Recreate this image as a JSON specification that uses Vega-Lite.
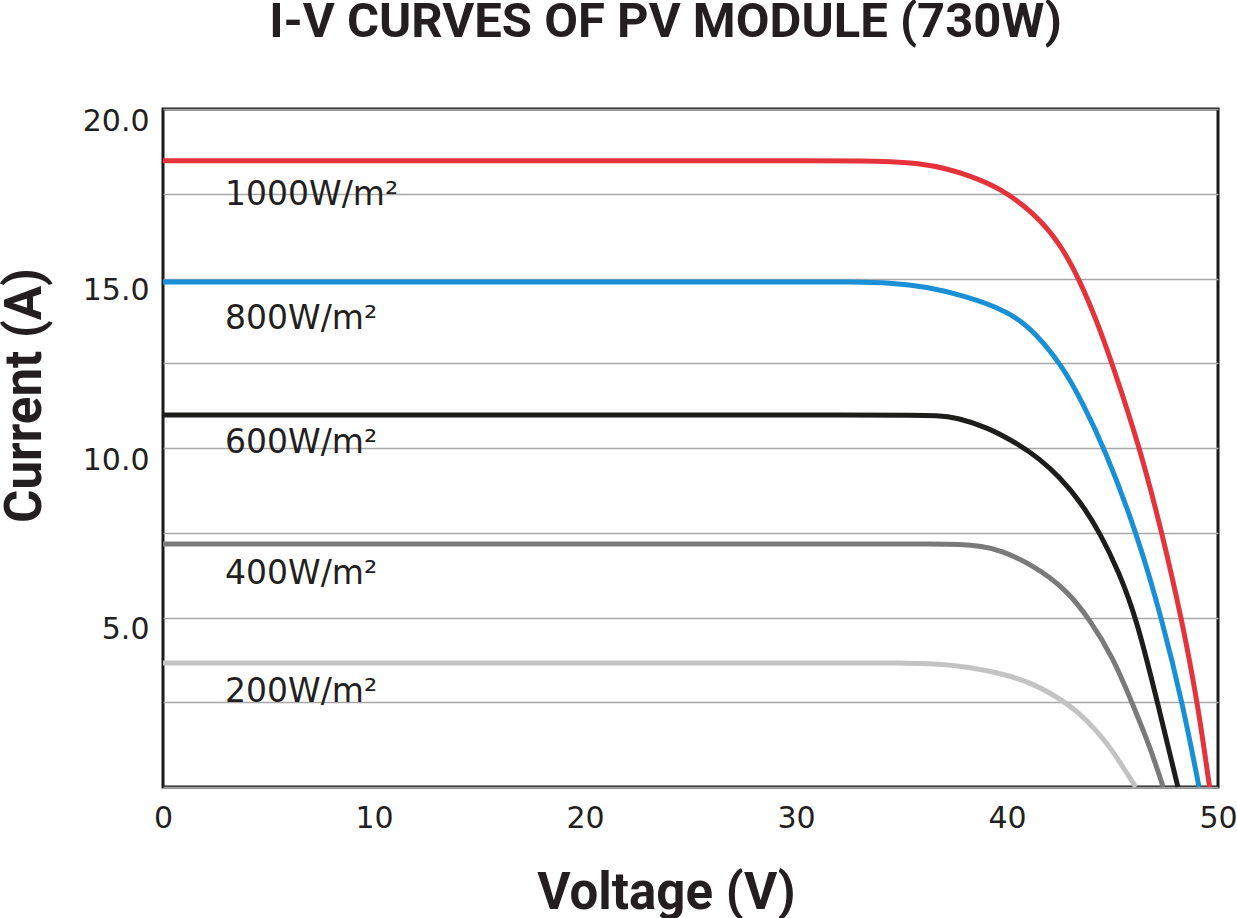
{
  "$schema": "https://vega.github.io/schema/vega-lite/v6.json",
  "width": 1055,
  "height": 678,
  "autosize": "none",
  "padding": {"left": 163, "top": 109, "right": 19, "bottom": 131},
  "background": "white",
  "title": {
    "text": "I-V CURVES OF PV MODULE (730W)",
    "font": "Roboto",
    "fontSize": 49,
    "fontWeight": "bold",
    "color": "#231f20",
    "anchor": "middle",
    "frame": "group",
    "baseline": "alphabetic",
    "dx": -25,
    "offset": 20
  },
  "datasets": {
    "curves": [
      {"irr": "1000", "V": 0, "I": 18.47},
      {"irr": "1000", "V": 25, "I": 18.47},
      {"irr": "1000", "V": 31, "I": 18.47},
      {"irr": "1000", "V": 33.0, "I": 18.47},
      {"irr": "1000", "V": 34.5, "I": 18.45},
      {"irr": "1000", "V": 35.9, "I": 18.39},
      {"irr": "1000", "V": 37.1, "I": 18.25},
      {"irr": "1000", "V": 38.2, "I": 18.04},
      {"irr": "1000", "V": 39.67, "I": 17.67},
      {"irr": "1000", "V": 41.23, "I": 16.96},
      {"irr": "1000", "V": 42.51, "I": 16.05},
      {"irr": "1000", "V": 43.46, "I": 14.93},
      {"irr": "1000", "V": 44.27, "I": 13.72},
      {"irr": "1000", "V": 44.98, "I": 12.5},
      {"irr": "1000", "V": 46.3, "I": 10.0},
      {"irr": "1000", "V": 47.35, "I": 7.49},
      {"irr": "1000", "V": 48.29, "I": 4.93},
      {"irr": "1000", "V": 49.05, "I": 2.42},
      {"irr": "1000", "V": 49.6, "I": 0},
      {"irr": "800", "V": 0, "I": 14.9},
      {"irr": "800", "V": 25, "I": 14.9},
      {"irr": "800", "V": 30.5, "I": 14.9},
      {"irr": "800", "V": 32.5, "I": 14.9},
      {"irr": "800", "V": 34.5, "I": 14.88},
      {"irr": "800", "V": 36.2, "I": 14.76},
      {"irr": "800", "V": 37.9, "I": 14.5},
      {"irr": "800", "V": 39.5, "I": 14.17},
      {"irr": "800", "V": 40.95, "I": 13.69},
      {"irr": "800", "V": 42.65, "I": 12.42},
      {"irr": "800", "V": 43.6, "I": 11.3},
      {"irr": "800", "V": 44.55, "I": 10.09},
      {"irr": "800", "V": 46.16, "I": 7.49},
      {"irr": "800", "V": 47.35, "I": 4.93},
      {"irr": "800", "V": 48.34, "I": 2.42},
      {"irr": "800", "V": 49.1, "I": 0},
      {"irr": "600", "V": 0, "I": 10.97},
      {"irr": "600", "V": 25, "I": 10.97},
      {"irr": "600", "V": 33, "I": 10.97},
      {"irr": "600", "V": 35.5, "I": 10.97},
      {"irr": "600", "V": 36.7, "I": 10.96},
      {"irr": "600", "V": 37.6, "I": 10.9},
      {"irr": "600", "V": 39.05, "I": 10.62},
      {"irr": "600", "V": 40.6, "I": 10.09},
      {"irr": "600", "V": 41.5, "I": 9.7},
      {"irr": "600", "V": 42.51, "I": 9.14},
      {"irr": "600", "V": 43.5, "I": 8.4},
      {"irr": "600", "V": 44.41, "I": 7.49},
      {"irr": "600", "V": 45.3, "I": 6.35},
      {"irr": "600", "V": 46.16, "I": 4.93},
      {"irr": "600", "V": 47.16, "I": 2.42},
      {"irr": "600", "V": 48.1, "I": 0},
      {"irr": "400", "V": 0, "I": 7.17},
      {"irr": "400", "V": 25, "I": 7.17},
      {"irr": "400", "V": 34, "I": 7.17},
      {"irr": "400", "V": 36.5, "I": 7.17},
      {"irr": "400", "V": 37.8, "I": 7.16},
      {"irr": "400", "V": 38.8, "I": 7.1},
      {"irr": "400", "V": 39.67, "I": 6.99},
      {"irr": "400", "V": 41.23, "I": 6.55},
      {"irr": "400", "V": 42.84, "I": 5.81},
      {"irr": "400", "V": 43.93, "I": 4.93},
      {"irr": "400", "V": 45.02, "I": 3.83},
      {"irr": "400", "V": 45.97, "I": 2.42},
      {"irr": "400", "V": 46.78, "I": 1.18},
      {"irr": "400", "V": 47.4, "I": 0},
      {"irr": "200", "V": 0, "I": 3.66},
      {"irr": "200", "V": 25, "I": 3.66},
      {"irr": "200", "V": 32.5, "I": 3.66},
      {"irr": "200", "V": 35, "I": 3.66},
      {"irr": "200", "V": 36.6, "I": 3.64},
      {"irr": "200", "V": 38.2, "I": 3.54},
      {"irr": "200", "V": 39.67, "I": 3.36},
      {"irr": "200", "V": 41.23, "I": 3.07},
      {"irr": "200", "V": 42.84, "I": 2.48},
      {"irr": "200", "V": 43.79, "I": 1.98},
      {"irr": "200", "V": 44.74, "I": 1.3},
      {"irr": "200", "V": 45.5, "I": 0.59},
      {"irr": "200", "V": 46.1, "I": 0}
    ],
    "labels": [
      {"label": "1000W/m²", "V": 2.94, "I": 17.45},
      {"label": "800W/m²", "V": 2.94, "I": 13.82},
      {"label": "600W/m²", "V": 2.94, "I": 10.14},
      {"label": "400W/m²", "V": 2.94, "I": 6.27},
      {"label": "200W/m²", "V": 2.94, "I": 2.79}
    ]
  },
  "encoding": {
    "x": {
      "field": "V",
      "type": "quantitative",
      "scale": {"domain": [0, 50], "nice": false},
      "axis": {
        "values": [0, 10, 20, 30, 40, 50],
        "grid": false,
        "ticks": false,
        "domain": false,
        "labelFont": "DejaVu Sans",
        "labelFontSize": 30,
        "labelColor": "#231f20",
        "labelPadding": 16,
        "labelFlush": false,
        "title": "Voltage (V)",
        "titleFont": "Roboto",
        "titleFontSize": 51,
        "titleFontWeight": "bold",
        "titleColor": "#231f20",
        "titleX": 503,
        "titleY": 121,
        "titleAlign": "center",
        "titleBaseline": "alphabetic"
      }
    },
    "y": {
      "field": "I",
      "type": "quantitative",
      "scale": {"domain": [0, 20], "nice": false},
      "axis": {
        "values": [0, 2.5, 5, 7.5, 10, 12.5, 15, 17.5, 20],
        "labelExpr": "datum.value % 5 == 0 && datum.value > 0 ? format(datum.value, '.1f') : ''",
        "grid": true,
        "gridColor": "#a8a8a8",
        "gridWidth": 1.5,
        "ticks": false,
        "domain": false,
        "labelFont": "DejaVu Sans",
        "labelFontSize": 30,
        "labelColor": "#231f20",
        "labelPadding": 14,
        "labelOffset": 12,
        "labelBaseline": "middle",
        "title": "Current (A)",
        "titleFont": "Roboto",
        "titleFontSize": 51,
        "titleFontWeight": "bold",
        "titleColor": "#231f20",
        "titleX": -123,
        "titleY": 286,
        "titleAlign": "center",
        "titleBaseline": "alphabetic"
      }
    }
  },
  "layer": [
    {
      "data": {"name": "curves"},
      "mark": {"type": "line", "interpolate": "basis", "strokeWidth": 5},
      "encoding": {
        "color": {
          "field": "irr",
          "type": "nominal",
          "scale": {
            "domain": ["1000", "800", "600", "400", "200"],
            "range": ["#e5333b", "#1990d5", "#1d1d1b", "#7a7a7a", "#c3c3c3"]
          },
          "legend": null
        }
      }
    },
    {
      "data": {"name": "labels"},
      "mark": {
        "type": "text",
        "align": "left",
        "baseline": "middle",
        "font": "DejaVu Sans",
        "fontSize": 33,
        "color": "#231f20"
      },
      "encoding": {
        "text": {"field": "label"}
      }
    }
  ],
  "config": {
    "view": {"stroke": "#1a1a1a", "strokeWidth": 3}
  }
}
